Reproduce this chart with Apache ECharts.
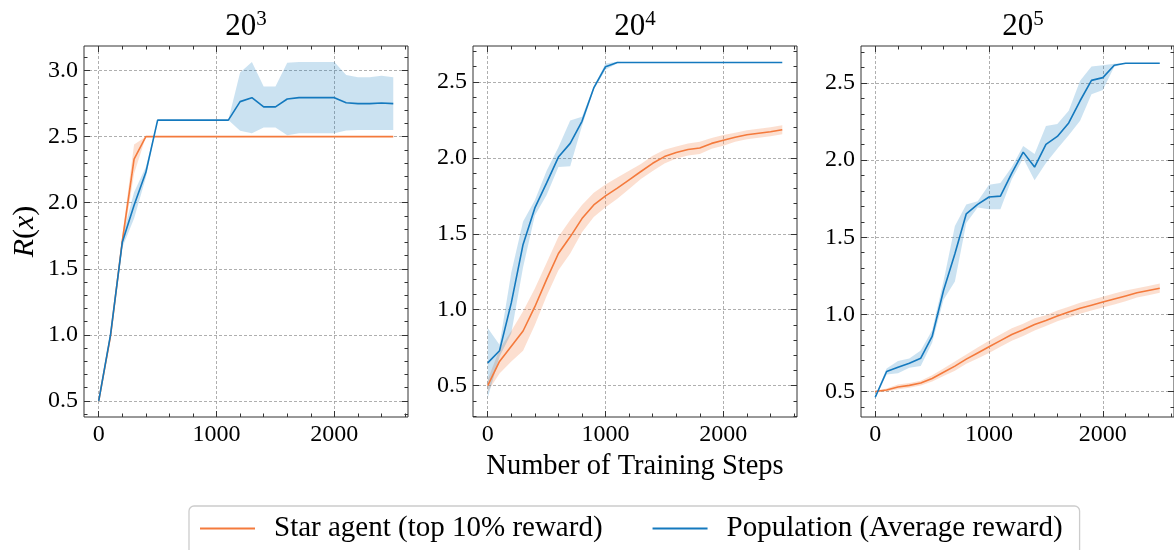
<!DOCTYPE html>
<html>
<head>
<meta charset="utf-8">
<script src="https://cdn.jsdelivr.net/npm/echarts@6/dist/echarts.min.js"></script>
<style>
  html, body { margin: 0; padding: 0; background: #ffffff; }
  #chart { width: 1174px; height: 550px; }
</style>
</head>
<body>
<div id="chart"></div>
<script>
// Training steps shared by every panel
const steps = [0, 100, 200, 300, 400, 500, 600, 700, 800, 900, 1000, 1100, 1200,
               1300, 1400, 1500, 1600, 1700, 1800, 1900, 2000, 2100, 2200, 2300, 2400, 2500];

// Panel titles: base and exponent
const titleBase = '20';
const titleExponents = ['3', '4', '5'];

// Series names
const starName = 'Star agent (top 10% reward)';
const popName = 'Population (Average reward)';

// Panel 20^3
const star3    = [0.50, 0.99, 1.71, 2.33, 2.50, 2.50, 2.50, 2.50, 2.50, 2.50, 2.50, 2.50, 2.50,
                  2.50, 2.50, 2.50, 2.50, 2.50, 2.50, 2.50, 2.50, 2.50, 2.50, 2.50, 2.50, 2.50];
const star3Std = [0.01, 0.02, 0.04, 0.11, 0.00, 0.00, 0.00, 0.00, 0.00, 0.00, 0.00, 0.00, 0.00,
                  0.00, 0.00, 0.00, 0.00, 0.00, 0.00, 0.00, 0.00, 0.00, 0.00, 0.00, 0.00, 0.00];
const pop3     = [0.50, 1.00, 1.70, 1.98, 2.23, 2.625, 2.625, 2.625, 2.625, 2.625, 2.625, 2.625, 2.765,
                  2.795, 2.725, 2.725, 2.785, 2.795, 2.795, 2.795, 2.795, 2.757, 2.75, 2.75, 2.755, 2.75];
const pop3Std  = [0.00, 0.02, 0.04, 0.10, 0.04, 0.00, 0.00, 0.00, 0.00, 0.00, 0.00, 0.00, 0.22,
                  0.27, 0.155, 0.155, 0.275, 0.27, 0.27, 0.27, 0.27, 0.21, 0.20, 0.20, 0.205, 0.20];

// Panel 20^4
const star4    = [0.50, 0.66, 0.76, 0.86, 1.02, 1.20, 1.37, 1.48, 1.60, 1.69, 1.75, 1.80, 1.855,
                  1.91, 1.964, 2.008, 2.035, 2.055, 2.065, 2.095, 2.115, 2.135, 2.152, 2.162, 2.172, 2.185];
const star4Std = [0.04, 0.08, 0.10, 0.13, 0.12, 0.11, 0.11, 0.11, 0.09, 0.08, 0.075, 0.07, 0.06,
                  0.05, 0.05, 0.045, 0.04, 0.04, 0.04, 0.035, 0.035, 0.03, 0.03, 0.03, 0.03, 0.03];
const pop4     = [0.65, 0.73, 1.045, 1.43, 1.67, 1.835, 2.005, 2.095, 2.24, 2.46, 2.60, 2.627, 2.627,
                  2.627, 2.627, 2.627, 2.627, 2.627, 2.627, 2.627, 2.627, 2.627, 2.627, 2.627, 2.627, 2.627];
const pop4Std  = [0.23, 0.04, 0.20, 0.15, 0.05, 0.08, 0.065, 0.15, 0.03, 0.01, 0.02, 0.005, 0.00,
                  0.00, 0.00, 0.00, 0.00, 0.00, 0.00, 0.00, 0.00, 0.00, 0.00, 0.00, 0.00, 0.00];

// Panel 20^5
const star5    = [0.50, 0.51, 0.53, 0.54, 0.555, 0.585, 0.625, 0.665, 0.71, 0.75, 0.79, 0.83, 0.87,
                  0.90, 0.935, 0.96, 0.99, 1.015, 1.04, 1.06, 1.08, 1.10, 1.12, 1.14, 1.155, 1.17];
const star5Std = [0.005, 0.01, 0.015, 0.015, 0.015, 0.02, 0.025, 0.03, 0.03, 0.035, 0.04, 0.04, 0.04,
                  0.04, 0.04, 0.035, 0.035, 0.035, 0.035, 0.035, 0.035, 0.035, 0.035, 0.03, 0.03, 0.03];
const pop5     = [0.463, 0.63, 0.658, 0.684, 0.716, 0.857, 1.155, 1.393, 1.652, 1.713, 1.761, 1.767, 1.916,
                  2.052, 1.955, 2.102, 2.154, 2.241, 2.385, 2.517, 2.535, 2.615, 2.628, 2.628, 2.628, 2.628];
const pop5Std  = [0.01, 0.02, 0.04, 0.03, 0.05, 0.04, 0.06, 0.18, 0.06, 0.02, 0.08, 0.085, 0.04,
                  0.04, 0.085, 0.12, 0.08, 0.08, 0.13, 0.09, 0.08, 0.01, 0.00, 0.00, 0.00, 0.00];

// Axis ticks
const xTickLabels = [0, 1000, 2000];
const xMinorTicks = [200, 400, 600, 800, 1200, 1400, 1600, 1800, 2200, 2400, 2600];
const yTickLabels = [
  [0.5, 1.0, 1.5, 2.0, 2.5, 3.0],
  [0.5, 1.0, 1.5, 2.0, 2.5],
  [0.5, 1.0, 1.5, 2.0, 2.5]
];
const xRange = [-125, 2625];
const yRanges = [[0.378, 3.186], [0.294, 2.736], [0.335, 2.740]];

const panels = [
  { star: star3, starStd: star3Std, pop: pop3, popStd: pop3Std },
  { star: star4, starStd: star4Std, pop: pop4, popStd: pop4Std },
  { star: star5, starStd: star5Std, pop: pop5, popStd: pop5Std }
];

// Layout and style
const FONT = "'Liberation Serif', 'Times New Roman', serif";
const ORANGE = '#F47A3C';
const BLUE = '#1479BE';
const ORANGE_BAND = 'rgba(244,122,60,0.24)';
const BLUE_BAND = 'rgba(20,121,190,0.22)';
const gridLefts = [84, 473, 861];
const gridTop = 46, gridW = 324, gridH = 371;
const FRAME = '#333333';

function minorYTicks(range, majors) {
  const out = [];
  for (let k = Math.ceil(range[0] * 10); k <= Math.floor(range[1] * 10); k++) {
    const v = k / 10;
    if (!majors.some(m => Math.abs(m - v) < 1e-9)) out.push(v);
  }
  return out;
}

const grids = [], xAxes = [], yAxes = [], series = [], graphics = [];

panels.forEach((p, i) => {
  grids.push({
    left: gridLefts[i], top: gridTop, width: gridW, height: gridH,
    show: true, borderColor: FRAME, borderWidth: 1, backgroundColor: 'transparent'
  });

  const yMinor = minorYTicks(yRanges[i], yTickLabels[i]);
  const baseX = { type: 'value', gridIndex: i, min: xRange[0], max: xRange[1],
                  axisLine: { show: false, onZero: false }, splitLine: { show: false } };
  const baseY = { type: 'value', gridIndex: i, min: yRanges[i][0], max: yRanges[i][1],
                  axisLine: { show: false, onZero: false }, splitLine: { show: false } };
  const majorTick = (vals) => ({ show: true, inside: true, length: 6, customValues: vals,
                                 lineStyle: { color: FRAME, width: 1 } });
  const minorTick = (vals) => ({ show: true, inside: true, length: 3.5, customValues: vals,
                                 lineStyle: { color: FRAME, width: 1 } });

  // bottom major (labels + dashed grid), bottom minor, top major, top minor
  xAxes.push(Object.assign({}, baseX, {
    position: 'bottom',
    splitNumber: 3,
    axisTick: majorTick(xTickLabels),
    axisLabel: { show: true, customValues: xTickLabels, margin: 6,
                 formatter: v => String(v),
                 fontFamily: FONT, fontSize: 24, color: '#000' },
    splitLine: { show: true, lineStyle: { color: '#9a9a9a', width: 0.8, type: [3, 2] } },
    name: i === 1 ? 'Number of Training Steps' : '',
    nameLocation: 'middle', nameGap: 32,
    nameTextStyle: { fontFamily: FONT, fontSize: 28.5, color: '#000' }
  }));
  xAxes.push(Object.assign({}, baseX, { position: 'bottom', axisTick: minorTick(xMinorTicks), axisLabel: { show: false } }));
  xAxes.push(Object.assign({}, baseX, { position: 'top', axisTick: majorTick(xTickLabels), axisLabel: { show: false } }));
  xAxes.push(Object.assign({}, baseX, { position: 'top', axisTick: minorTick(xMinorTicks), axisLabel: { show: false } }));

  yAxes.push(Object.assign({}, baseY, {
    position: 'left',
    splitNumber: 5,
    axisTick: majorTick(yTickLabels[i]),
    axisLabel: { show: true, customValues: yTickLabels[i], margin: 6,
                 formatter: v => v.toFixed(1),
                 fontFamily: FONT, fontSize: 24, color: '#000' },
    splitLine: { show: true, lineStyle: { color: '#9a9a9a', width: 0.8, type: [3, 2] } },
    name: i === 0 ? '{it|R}({it|x})' : '',
    nameLocation: 'middle', nameRotate: 90, nameGap: 44,
    nameTextStyle: { fontFamily: FONT, fontSize: 30, color: '#000',
                     rich: { it: { fontFamily: FONT, fontSize: 30, fontStyle: 'italic', color: '#000' } } }
  }));
  yAxes.push(Object.assign({}, baseY, { position: 'left', axisTick: minorTick(yMinor), axisLabel: { show: false } }));
  yAxes.push(Object.assign({}, baseY, { position: 'right', axisTick: majorTick(yTickLabels[i]), axisLabel: { show: false } }));
  yAxes.push(Object.assign({}, baseY, { position: 'right', axisTick: minorTick(yMinor), axisLabel: { show: false } }));

  const ax = i * 4;

  // shaded spread band drawn as one polygon through the axis scales
  const band = (mean, std, fill, nm) => ({
    type: 'custom', name: nm, xAxisIndex: ax, yAxisIndex: ax, silent: true, z: 1,
    data: steps.map((s, k) => [s, mean[k] - std[k], mean[k] + std[k]]),
    encode: { x: 0, y: [1, 2] },
    renderItem: (params, api) => {
      if (params.dataIndex !== 0) return null;
      const n = params.dataInsideLength;
      const upper = [], lower = [];
      for (let k = 0; k < n; k++) {
        upper.push(api.coord([api.value(0, k), api.value(2, k)]));
        lower.push(api.coord([api.value(0, k), api.value(1, k)]));
      }
      return { type: 'polygon', shape: { points: upper.concat(lower.reverse()) },
               style: { fill: fill, stroke: null } };
    }
  });

  series.push(band(p.star, p.starStd, ORANGE_BAND, starName + ' spread'));
  series.push(band(p.pop, p.popStd, BLUE_BAND, popName + ' spread'));

  series.push({
    type: 'line', name: starName, xAxisIndex: ax, yAxisIndex: ax, z: 3,
    data: steps.map((s, k) => [s, p.star[k]]),
    symbol: 'none', showSymbol: false,
    lineStyle: { color: ORANGE, width: 1.6 }, itemStyle: { color: ORANGE }
  });
  series.push({
    type: 'line', name: popName, xAxisIndex: ax, yAxisIndex: ax, z: 4,
    data: steps.map((s, k) => [s, p.pop[k]]),
    symbol: 'none', showSymbol: false,
    lineStyle: { color: BLUE, width: 1.6 }, itemStyle: { color: BLUE }
  });

  // panel title 20^n
  graphics.push({
    type: 'text', x: gridLefts[i] + gridW / 2, y: 27, silent: true,
    style: {
      text: titleBase + '{sup|' + titleExponents[i] + '}',
      align: 'center', verticalAlign: 'middle',
      fontFamily: FONT, fontSize: 31, lineHeight: 37, fill: '#000',
      rich: {
        sup: { fontFamily: FONT, fontSize: 21, lineHeight: 21, verticalAlign: 'top', fill: '#000' }
      }
    }
  });
});

const chart = echarts.init(document.getElementById('chart'), null, { renderer: 'canvas' });
chart.setOption({
  animation: false,
  backgroundColor: '#ffffff',
  grid: grids,
  xAxis: xAxes,
  yAxis: yAxes,
  series: series,
  graphic: graphics,
  legend: {
    data: [starName, popName],
    left: 189, top: 506,
    padding: [8, 17, 30, 11],
    itemGap: 50,
    itemWidth: 55, itemHeight: 2.2,
    icon: 'rect',
    borderColor: '#cccccc', borderWidth: 1.3, borderRadius: 5,
    backgroundColor: '#ffffff',
    textStyle: { fontFamily: FONT, fontSize: 29, color: '#000', padding: [0, 0, 0, 14] }
  }
});
</script>
</body>
</html>
